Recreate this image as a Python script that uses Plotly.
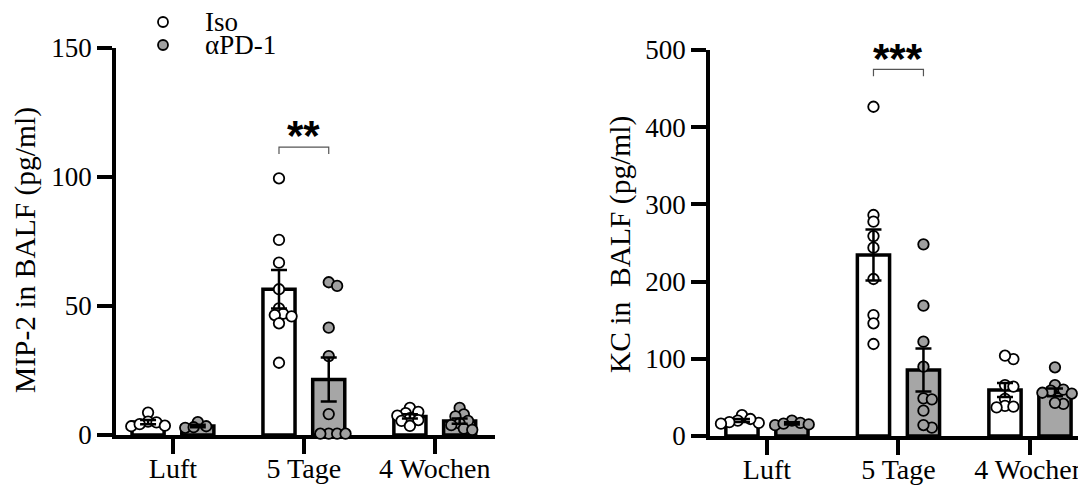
import numpy as np
import plotly.graph_objects as go

# page body has an 8px default margin; figure size compensates for it
BODY = 8
W, H = 1086 - BODY, 486 - BODY

categories = ["Luft", "5 Tage", "4 Wochen"]
groups = ["Iso", "αPD-1"]

# MIP-2 (left panel), individual values
mip2_iso_pts = [
    [8.7, 5.2, 4.9, 3.6, 3.4, 4.2],
    [99.5, 75.6, 66.8, 56.5, 49.1, 47.0, 46.5, 46.0, 43.3, 28.0],
    [10.5, 9.0, 8.5, 7.5, 6.5, 5.8, 5.5, 3.5],
]
mip2_pd1_pts = [
    [2.8, 5.0, 3.4, 3.0],
    [59.2, 57.8, 41.6, 30.6, 8.1, 0.5, 0.5, 0.5, 0.5],
    [10.5, 8.0, 7.2, 5.5, 4.5, 3.8, 2.5, 2.0],
]
mip2_iso_mean = [5.0, 56.5, 7.2]
mip2_iso_sem = [0.8, 7.5, 0.8]
mip2_pd1_mean = [3.5, 21.5, 5.4]
mip2_pd1_sem = [0.5, 8.5, 1.0]

# KC (right panel)
kc_iso_pts = [
    [27.0, 20.0, 18.0, 17.0, 16.0, 22.0],
    [426.5, 286.3, 277.6, 259.0, 244.0, 203.4, 156.7, 146.0, 119.2],
    [99.6, 104.0, 66.0, 64.0, 48.0, 39.0, 37.0, 38.0],
]
kc_pd1_pts = [
    [14.0, 20.0, 17.0, 16.0, 15.0],
    [248.3, 168.8, 122.2, 89.8, 48.8, 47.5, 32.8, 10.8, 14.2],
    [89.0, 66.0, 60.0, 58.7, 56.0, 55.0, 41.5, 43.0],
]
kc_iso_mean = [20.0, 234.5, 59.6]
kc_iso_sem = [2.0, 33.0, 9.0]
kc_pd1_mean = [16.4, 85.5, 56.5]
kc_pd1_sem = [1.5, 28.0, 5.0]


# ---------------- layout geometry (reference window pixels) ----------------
def fx(px):
    return (px - BODY) / W


def fy(py):
    return 1 - (py - BODY) / H


left_dom = [fx(116), fx(495)]
right_dom = [fx(710), 1.0]
left_xr = [-0.435, 2.46]
right_xr = [-0.433, 2.426]
left_ydom = [fy(435), fy(48)]
right_ydom = [fy(436), fy(50)]
left_yr = [0, 150]
right_yr = [0, 500]

OFF = 0.19
BW = 0.245
DIAM = 10.5

FONT = "Liberation Serif"
GREY_BAR = "#a6a6a6"
GREY_DOT = "#a0a0a0"


def px_per_unit(dom, rng, total):
    return (dom[1] - dom[0]) * total / (rng[1] - rng[0])


def swarm(values, xc, ppx, ppy, diam=DIAM, mind=0.62):
    vals = np.asarray(values, float)
    order = np.argsort(-vals)
    xs = np.zeros(len(vals))
    placed = []
    step = diam * 0.4
    for i in order:
        yp = vals[i] * ppy
        cands = [0]
        for j in range(1, 30):
            cands += [j * step, -j * step]
        for c in cands:
            ok = all((c - px) ** 2 + (yp - py) ** 2 >= (mind * diam) ** 2 for px, py in placed)
            if ok:
                break
        placed.append((c, yp))
        xs[i] = xc + c / ppx
    return xs.tolist()


fig = go.Figure()


def add_panel(xa, ya, iso_pts, pd1_pts, iso_m, iso_s, pd1_m, pd1_s, xdom, xr, ydom, yr):
    ppx = px_per_unit(xdom, xr, W)
    ppy = px_per_unit(ydom, yr, H)
    xi = [i - OFF for i in range(len(categories))]
    xp = [i + OFF for i in range(len(categories))]
    fig.add_trace(go.Bar(x=xi, y=iso_m, width=BW, xaxis=xa, yaxis=ya,
                         marker=dict(color="white", line=dict(color="black", width=3.5)),
                         showlegend=False))
    fig.add_trace(go.Bar(x=xp, y=pd1_m, width=BW, xaxis=xa, yaxis=ya,
                         marker=dict(color=GREY_BAR, line=dict(color="black", width=3.5)),
                         showlegend=False))
    for pts_list, centers, fill in ((iso_pts, xi, "white"), (pd1_pts, xp, GREY_DOT)):
        for pts, c in zip(pts_list, centers):
            xs = swarm(pts, c, ppx, ppy)
            fig.add_trace(go.Scatter(x=xs, y=pts, mode="markers", xaxis=xa, yaxis=ya,
                                     cliponaxis=False, showlegend=False,
                                     marker=dict(size=DIAM, color=fill,
                                                 line=dict(color="black", width=1.8))))
    for centers, m, s in ((xi, iso_m, iso_s), (xp, pd1_m, pd1_s)):
        fig.add_trace(go.Scatter(x=centers, y=m, mode="markers", xaxis=xa, yaxis=ya,
                                 marker=dict(size=1, opacity=0), showlegend=False,
                                 error_y=dict(type="data", array=s, visible=True,
                                              color="black", thickness=2.5, width=8)))


add_panel("x", "y", mip2_iso_pts, mip2_pd1_pts, mip2_iso_mean, mip2_iso_sem,
          mip2_pd1_mean, mip2_pd1_sem, left_dom, left_xr, left_ydom, left_yr)
add_panel("x2", "y2", kc_iso_pts, kc_pd1_pts, kc_iso_mean, kc_iso_sem,
          kc_pd1_mean, kc_pd1_sem, right_dom, right_xr, right_ydom, right_yr)

xcommon = dict(tickmode="array", tickvals=[0, 1, 2], ticktext=categories,
               showline=True, linecolor="black", linewidth=3.5, ticks="outside",
               ticklen=15, tickwidth=3.5, tickcolor="black", showgrid=False, zeroline=False,
               automargin=False, ticklabelstandoff=-9,
               tickfont=dict(family=FONT, size=28, color="black"), layer="below traces")
ycommon = dict(showline=True, linecolor="black", linewidth=3.5, ticks="outside",
               ticklen=15, tickwidth=3.5, tickcolor="black", showgrid=False, zeroline=False,
               automargin=False,
               tickfont=dict(family=FONT, size=27, color="black"), layer="below traces")

fig.update_layout(
    width=W, height=H,
    margin=dict(l=0, r=0, t=0, b=0, pad=0, autoexpand=False),
    paper_bgcolor="white", plot_bgcolor="white",
    barmode="overlay", showlegend=False,
    xaxis=dict(domain=left_dom, range=left_xr, anchor="y", **xcommon),
    yaxis=dict(domain=left_ydom, range=left_yr, anchor="x",
               tickvals=[0, 50, 100, 150], **ycommon),
    xaxis2=dict(domain=right_dom, range=right_xr, anchor="y2", **xcommon),
    yaxis2=dict(domain=right_ydom, range=right_yr, anchor="x2",
                tickvals=[0, 100, 200, 300, 400, 500], **ycommon),
)

# axis titles
fig.add_annotation(text="MIP-2 in BALF (pg/ml)", xref="paper", yref="paper",
                   x=fx(25), y=fy(250), xanchor="center", yanchor="middle",
                   textangle=-90, showarrow=False,
                   font=dict(family=FONT, size=29.5, color="black"))
fig.add_annotation(text="KC in \u00a0BALF (pg/ml)", xref="paper", yref="paper",
                   x=fx(620), y=fy(245), xanchor="center", yanchor="middle",
                   textangle=-90, showarrow=False,
                   font=dict(family=FONT, size=29.5, color="black"))

# legend
for yy, fill, label in ((22, "white", groups[0]), (45, GREY_DOT, groups[1])):
    fig.add_shape(type="circle", xref="paper", yref="paper", xsizemode="pixel", ysizemode="pixel",
                  xanchor=fx(163), yanchor=fy(yy), x0=-5, x1=5, y0=-5, y1=5,
                  fillcolor=fill, line=dict(color="black", width=1.8))
    fig.add_annotation(text=label, xref="paper", yref="paper", x=fx(203), y=fy(yy),
                       xanchor="left", yanchor="middle", showarrow=False,
                       font=dict(family=FONT, size=27, color="black"))


# significance brackets
def bracket(xa, ya, xc, ytop, ybot, stars, star_y_px):
    x0, x1 = xc - OFF, xc + OFF
    fig.add_shape(type="path", xref=xa, yref=ya,
                  path=f"M {x0} {ybot} L {x0} {ytop} L {x1} {ytop} L {x1} {ybot}",
                  line=dict(color="#555555", width=1.2))
    fig.add_annotation(text=f"<b>{stars}</b>", xref=xa, yref="paper", x=xc, y=fy(star_y_px),
                       showarrow=False, yanchor="middle",
                       font=dict(family="Liberation Sans", size=42, color="black"))


bracket("x", "y", 1, 111.6, 108.9, "**", 135)
bracket("x2", "y2", 1, 475, 466, "***", 59)

fig.write_html("out.html")
